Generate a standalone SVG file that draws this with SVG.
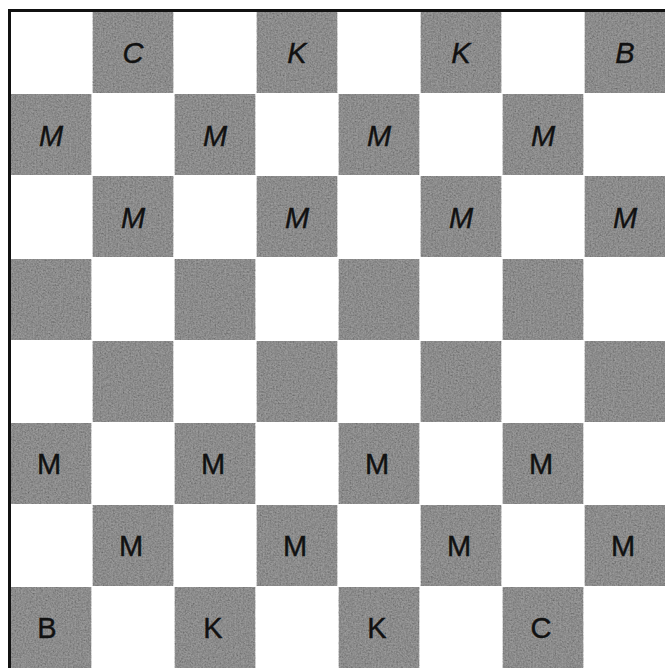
<svg xmlns="http://www.w3.org/2000/svg" width="665" height="668" viewBox="0 0 665 668">
<defs>
<filter id="grain" x="0" y="0" width="100%" height="100%" filterUnits="userSpaceOnUse">
<feTurbulence type="fractalNoise" baseFrequency="0.6" numOctaves="2" seed="3" result="n"/>
<feColorMatrix in="n" type="matrix" values="0 0 0 0 0  0 0 0 0 0  0 0 0 0 0  0.55 0.55 0.55 0 -0.55" result="a"/>
<feComponentTransfer in="a" result="b"><feFuncA type="linear" slope="1.4" intercept="-0.1"/></feComponentTransfer>
<feFlood flood-color="#606060" result="f"/>
<feComposite in="f" in2="b" operator="in" result="spots"/>
<feMerge result="m"><feMergeNode in="SourceGraphic"/><feMergeNode in="spots"/></feMerge>
<feComposite in="m" in2="SourceGraphic" operator="in"/>
</filter>
<style>
.d{fill:#999}
.t{font-family:"Liberation Sans",Arial,sans-serif;font-size:29px;fill:#111;stroke:#111;stroke-width:0.4;text-anchor:middle}
.i{font-style:italic}
</style>
</defs>
<rect x="0" y="0" width="665" height="668" fill="#fff"/>
<g id="squares" filter="url(#grain)">
<rect class="d" x="92.5" y="12" width="81" height="81"/>
<rect class="d" x="256.5" y="12" width="81" height="81"/>
<rect class="d" x="420.5" y="12" width="81" height="81"/>
<rect class="d" x="584.5" y="12" width="81" height="81"/>
<rect class="d" x="10.5" y="94" width="81" height="81"/>
<rect class="d" x="174.5" y="94" width="81" height="81"/>
<rect class="d" x="338.5" y="94" width="81" height="81"/>
<rect class="d" x="502.5" y="94" width="81" height="81"/>
<rect class="d" x="92.5" y="176" width="81" height="81"/>
<rect class="d" x="256.5" y="176" width="81" height="81"/>
<rect class="d" x="420.5" y="176" width="81" height="81"/>
<rect class="d" x="584.5" y="176" width="81" height="81"/>
<rect class="d" x="10.5" y="259" width="81" height="81"/>
<rect class="d" x="174.5" y="259" width="81" height="81"/>
<rect class="d" x="338.5" y="259" width="81" height="81"/>
<rect class="d" x="502.5" y="259" width="81" height="81"/>
<rect class="d" x="92.5" y="341" width="81" height="81"/>
<rect class="d" x="256.5" y="341" width="81" height="81"/>
<rect class="d" x="420.5" y="341" width="81" height="81"/>
<rect class="d" x="584.5" y="341" width="81" height="81"/>
<rect class="d" x="10.5" y="423" width="81" height="81"/>
<rect class="d" x="174.5" y="423" width="81" height="81"/>
<rect class="d" x="338.5" y="423" width="81" height="81"/>
<rect class="d" x="502.5" y="423" width="81" height="81"/>
<rect class="d" x="92.5" y="505" width="81" height="81"/>
<rect class="d" x="256.5" y="505" width="81" height="81"/>
<rect class="d" x="420.5" y="505" width="81" height="81"/>
<rect class="d" x="584.5" y="505" width="81" height="81"/>
<rect class="d" x="10.5" y="587" width="81" height="81"/>
<rect class="d" x="174.5" y="587" width="81" height="81"/>
<rect class="d" x="338.5" y="587" width="81" height="81"/>
<rect class="d" x="502.5" y="587" width="81" height="81"/>
</g>
<g id="border" stroke="#111" stroke-width="3" fill="none">
<path d="M9.5 668 V10.5 H665"/>
</g>
<g id="labels-top">
<text class="t i" x="133" y="63">C</text>
<text class="t i" x="297" y="63">K</text>
<text class="t i" x="461" y="63">K</text>
<text class="t i" x="625" y="63">B</text>
<text class="t i" x="51" y="146">M</text>
<text class="t i" x="215" y="146">M</text>
<text class="t i" x="379" y="146">M</text>
<text class="t i" x="543" y="146">M</text>
<text class="t i" x="133" y="228">M</text>
<text class="t i" x="297" y="228">M</text>
<text class="t i" x="461" y="228">M</text>
<text class="t i" x="625" y="228">M</text>
</g>
<g id="labels-bottom">
<text class="t" x="49" y="474">M</text>
<text class="t" x="213" y="474">M</text>
<text class="t" x="377" y="474">M</text>
<text class="t" x="541" y="474">M</text>
<text class="t" x="131" y="556">M</text>
<text class="t" x="295" y="556">M</text>
<text class="t" x="459" y="556">M</text>
<text class="t" x="623" y="556">M</text>
<text class="t" x="47" y="638">B</text>
<text class="t" x="213" y="638">K</text>
<text class="t" x="377" y="638">K</text>
<text class="t" x="541" y="638">C</text>
</g>
</svg>
